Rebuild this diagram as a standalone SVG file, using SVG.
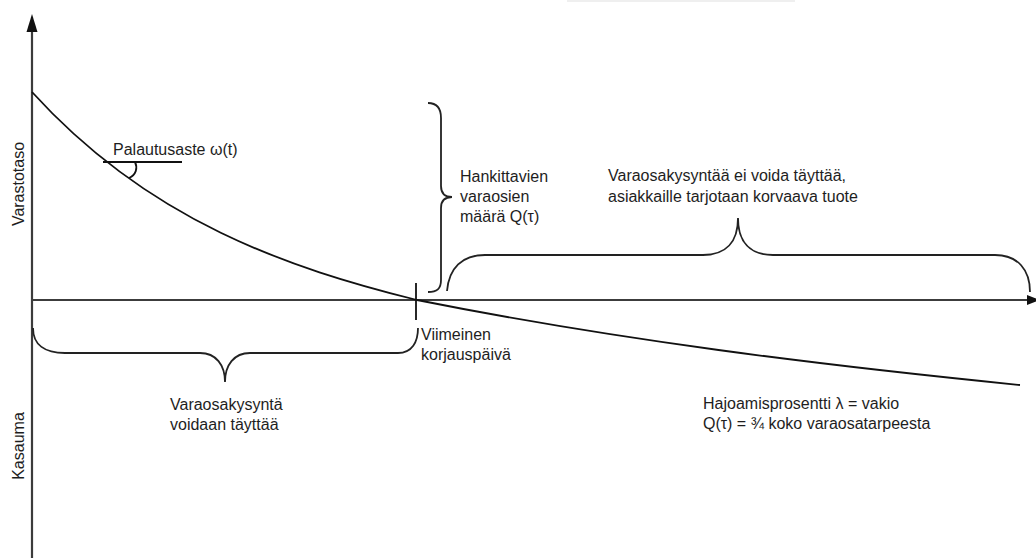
<svg xmlns="http://www.w3.org/2000/svg" width="1036" height="558" viewBox="0 0 1036 558">
<style>
.t{font-family:"Liberation Sans",Arial,sans-serif;font-size:16px;fill:#1e1e1e}
.ax{stroke:#3c3c3c;stroke-width:2.2;fill:none}
.ln{stroke:#111;stroke-width:1.8;fill:none}
.br{stroke:#222;stroke-width:1.8;fill:none}
</style>
<rect x="567" y="0" width="228" height="2" fill="#efefef"/>
<g id="axes">
<line class="ax" x1="32" y1="558" x2="32" y2="28"/>
<polygon points="32,14 26.5,32 37.5,32" fill="#111"/>
<line class="ax" x1="32" y1="300" x2="1030" y2="300"/>
<polygon points="1027,295 1027,305 1040,300" fill="#111"/>
</g>
<g id="curve">
<path class="ln" d="M32,92 C150,222 289,268 417,300 C617,340 820,365 1020,385"/>
</g>
<g id="palautusaste">
<line class="ln" x1="103" y1="162" x2="182" y2="162" stroke-width="1.5"/>
<path class="ln" stroke-width="1.3" d="M135,162 C138,168 136,175 129,178"/>
<text class="t" x="113" y="155">Palautusaste ω(t)</text>
</g>
<g id="viimeinen">
<line class="ln" x1="416" y1="283" x2="416" y2="320" stroke-width="1.3"/>
<text class="t" x="421" y="340">Viimeinen</text>
<text class="t" x="421" y="360">korjauspäivä</text>
</g>
<g id="hankittavien">
<path class="br" d="M428,103 C437,103 441,108 441,118 L441,186 C441,193 445,197 452,197 C445,197 441,201 441,208 L441,280 C441,289 437,292 428,292"/>
<text class="t" x="460" y="182">Hankittavien</text>
<text class="t" x="460" y="202">varaosien</text>
<text class="t" x="460" y="222">määrä Q(τ)</text>
</g>
<g id="ei-voida">
<path class="br" d="M447,291 C449,268 462,255 485,255 L703,255 C726,255 738,242 738,218 C738,242 750,255 773,255 L995,255 C1018,255 1030,270 1030,292"/>
<text class="t" x="608" y="181">Varaosakysyntää ei voida täyttää,</text>
<text class="t" x="608" y="202">asiakkaille tarjotaan korvaava tuote</text>
</g>
<g id="voidaan">
<path class="br" d="M33,328 C33,345 45,353 65,353 L200,353 C216,353 225,365 225,382 C225,365 234,353 250,353 L398,353 C412,353 418,342 418,328"/>
<text class="t" x="170" y="410">Varaosakysyntä</text>
<text class="t" x="170" y="430">voidaan täyttää</text>
</g>
<g id="hajoamis">
<text class="t" x="703" y="409">Hajoamisprosentti λ = vakio</text>
<text class="t" x="703" y="429">Q(τ) = ¾ koko varaosatarpeesta</text>
</g>
<g id="labels">
<text class="t" transform="translate(24,184) rotate(-90)" text-anchor="middle">Varastotaso</text>
<text class="t" transform="translate(24,446) rotate(-90)" text-anchor="middle">Kasauma</text>
</g>
</svg>
